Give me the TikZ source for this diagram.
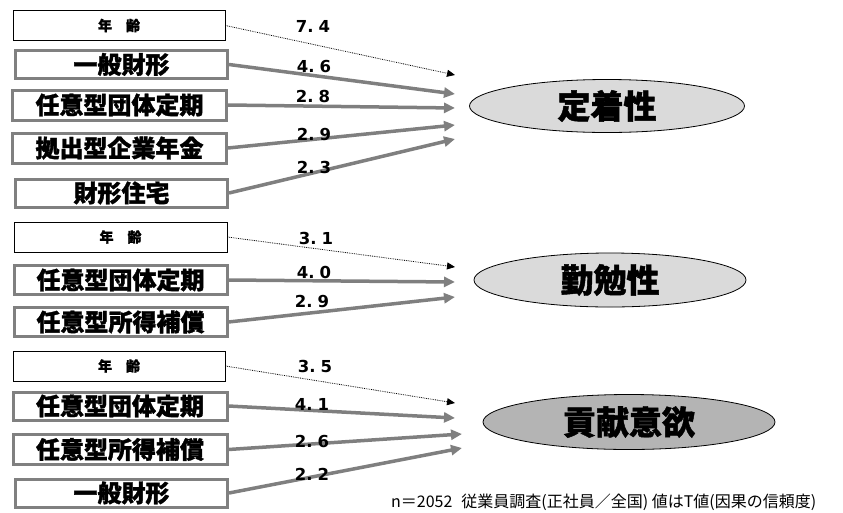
\documentclass[tikz,border=0pt]{standalone}
\usepackage{fontspec}
\newfontfamily\jp[BoldFeatures={FakeBold=1.3}]{Noto Sans CJK JP}
\newfontfamily\numf{DejaVu Sans}
\usetikzlibrary{shapes.geometric,arrows.meta}
\definecolor{arrgray}{HTML}{7F7F7F}
\definecolor{boxgray}{HTML}{808080}
\definecolor{ellA}{HTML}{DADADA}
\definecolor{ellB}{HTML}{B4B4B4}
\tikzset{
  agebox/.style={draw=black,line width=0.9pt,fill=white,minimum width=212pt,minimum height=30pt,inner sep=0pt,font=\jp\bfseries\fontsize{14}{14}\selectfont},
  varbox/.style={draw=boxgray,line width=3pt,fill=white,minimum width=212pt,minimum height=28pt,inner sep=0pt,font=\jp\bfseries\fontsize{24}{24}\selectfont},
  outc/.style={ellipse,draw=black,line width=0.8pt,inner sep=0pt,font=\jp\bfseries\fontsize{33}{33}\selectfont},
  solidarr/.style={draw=arrgray,line width=3.5pt,-{Triangle[length=11pt,width=10pt]}},
  dotarr/.style={draw=black,line width=0.8pt,densely dotted,-{Triangle[length=8pt,width=7pt]}},
  tval/.style={font=\numf\bfseries\fontsize{16.5}{16.5}\selectfont,inner sep=0pt},
  note/.style={font=\jp\fontsize{16}{16}\selectfont,inner sep=0pt,anchor=west}
}
\newcommand{\tv}[2]{#1.\hspace{5pt}#2}
\begin{document}
\begin{tikzpicture}[x=1pt,y=-1pt]
\useasboundingbox (0,0) rectangle (843,512);
% group 1
\node[agebox] (a1) at (119,25.5) {年　齢};
\node[varbox] (b1) at (121.5,64.5) {一般財形};
\node[varbox,minimum width=214pt,minimum height=30pt] (c1) at (119.5,105) {任意型団体定期};
\node[varbox,minimum width=214pt,minimum height=30pt] (d1) at (119.5,148) {拠出型企業年金};
\node[varbox] (e1) at (121.5,193) {財形住宅};
\node[outc,fill=ellA,minimum width=275pt,minimum height=53pt] (o1) at (607,106) {定着性};
\coordinate (t1a) at (455,75);
\coordinate (t1b) at (455,94);
\coordinate (t1c) at (455,108);
\coordinate (t1d) at (455,125);
\coordinate (t1e) at (455,139);
\draw[dotarr] (a1.east) -- (t1a);
\draw[solidarr] (b1.east) -- (t1b);
\draw[solidarr] (c1.east) -- (t1c);
\draw[solidarr] (d1.east) -- (t1d);
\draw[solidarr] (e1.east) -- (t1e);
\node[tval] (v1a) at (313,26) {\tv{7}{4}};
\node[tval] (v1b) at (314,66) {\tv{4}{6}};
\node[tval] (v1c) at (313,96) {\tv{2}{8}};
\node[tval] (v1d) at (314,134) {\tv{2}{9}};
\node[tval] (v1e) at (314,167) {\tv{2}{3}};
% group 2
\node[agebox,minimum width=213pt] (a2) at (120.5,237) {年　齢};
\node[varbox,minimum width=213pt,minimum height=29pt] (b2) at (120.5,280) {任意型団体定期};
\node[varbox,minimum width=213pt,minimum height=29pt] (c2) at (120.5,322) {任意型所得補償};
\node[outc,fill=ellA,minimum width=272pt,minimum height=54pt] (o2) at (610,280) {勤勉性};
\coordinate (t2a) at (455,267);
\coordinate (t2b) at (455,282);
\coordinate (t2c) at (455,297);
\draw[dotarr] (a2.east) -- (t2a);
\draw[solidarr] (b2.east) -- (t2b);
\draw[solidarr] (c2.east) -- (t2c);
\node[tval] (v2a) at (316,238) {\tv{3}{1}};
\node[tval] (v2b) at (314,272) {\tv{4}{0}};
\node[tval] (v2c) at (312,301) {\tv{2}{9}};
% group 3
\node[agebox] (a3) at (119,366) {年　齢};
\node[varbox,minimum width=214pt,minimum height=28pt] (b3) at (120,406) {任意型団体定期};
\node[varbox,minimum width=214pt,minimum height=30pt] (c3) at (120,449.5) {任意型所得補償};
\node[varbox] (d3) at (121.5,493) {一般財形};
\node[outc,fill=ellB,minimum width=292pt,minimum height=55pt] (o3) at (629,422) {貢献意欲};
\coordinate (t3a) at (455,403);
\coordinate (t3b) at (455,418);
\coordinate (t3c) at (462,434);
\coordinate (t3d) at (462,448);
\draw[dotarr] (a3.east) -- (t3a);
\draw[solidarr] (b3.east) -- (t3b);
\draw[solidarr] (c3.east) -- (t3c);
\draw[solidarr] (d3.east) -- (t3d);
\node[tval] (v3a) at (315,366) {\tv{3}{5}};
\node[tval] (v3b) at (312,404) {\tv{4}{1}};
\node[tval] (v3c) at (312,441) {\tv{2}{6}};
\node[tval] (v3d) at (312,474) {\tv{2}{2}};
% note
\node[note] (nt) at (391,502) {n＝2052\hspace{9pt}従業員調査(正社員／全国) 値はT値(因果の信頼度)};
\end{tikzpicture}
\end{document}
